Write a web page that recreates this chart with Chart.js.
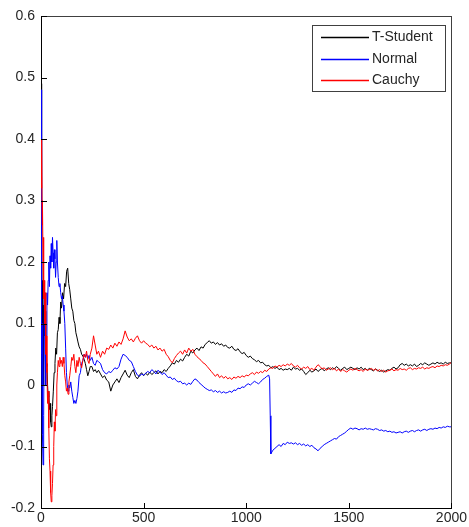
<!DOCTYPE html>
<html>
<head>
<meta charset="utf-8">
<script src="https://cdn.jsdelivr.net/npm/chart.js@4.4.1/dist/chart.umd.min.js"></script>
<style>
html,body{margin:0;padding:0;background:#fff;}
#wrap{width:469px;height:527px;position:relative;}
</style>
</head>
<body>
<div id="wrap"><canvas id="c" width="469" height="527"></canvas></div>
<script>
// ---- data ----
const seriesNames = ["T-Student", "Normal", "Cauchy"];
const seriesColors = ["#000000", "#0000ff", "#ff0000"];
const xTicks = [0, 500, 1000, 1500, 2000];
const yTicks = [-0.2, -0.1, 0, 0.1, 0.2, 0.3, 0.4, 0.5, 0.6];

// T-Student
const tStudentX = [1,2,3,4,5,6,8,10,12,14,16,18,20,23,26,29,32,35,38,41,44,47,50,53,56,60,64,68,72,76,80,84,88,92,96,100,105,110,115,120,125,130,135,140,145,150,155,160,165,170,175,180,186,192,198,204,210,216,222,228,234,240,248,256,264,272,280,290,300,310,320,330,340,350,360,370,380,390,400,410,420,430,440,450,460,470,480,490,
500,510,520,530,540,550,560,570,580,590,
600,610,620,630,640,650,660,670,680,690,
700,710,720,730,740,750,760,770,780,790,
800,810,820,830,840,850,860,870,880,890,
900,910,920,930,940,950,960,970,980,990,
1000,1010,1020,1030,1040,1050,1060,1070,1080,1090,
1100,1110,1120,1130,1140,1150,1160,1170,1180,1190,
1200,1210,1220,1230,1240,1250,1260,1270,1280,1290,
1300,1310,1320,1330,1340,1350,1360,1370,1380,1390,
1400,1410,1420,1430,1440,1450,1460,1470,1480,1490,
1500,1510,1520,1530,1540,1550,1560,1570,1580,1590,
1600,1610,1620,1630,1640,1650,1660,1670,1680,1690,
1700,1710,1720,1730,1740,1750,1760,1770,1780,1790,
1800,1810,1820,1830,1840,1850,1860,1870,1880,1890,
1900,1910,1920,1930,1940,1950,1960,1970,1980,1990,2000];
const tStudentY = [0.49,0.30,0.16,0.22,0.12,0.17,0.05,0.13,0.00,0.10,0.15,0.08,0.12,0.06,0.03,0.035,0.0,-0.02,-0.01,-0.04,-0.03,-0.06,-0.068,-0.05,-0.035,-0.01,0.02,0.035,0.06,0.05,0.085,0.09,0.11,0.10,0.135,0.125,0.15,0.14,0.165,0.16,0.185,0.19,0.165,0.155,0.14,0.125,0.12,0.105,0.10,0.085,0.078,0.07,0.062,0.058,0.05,0.047,0.042,0.035,0.025,0.015,0.022,0.03,0.03,0.022,0.025,0.02,0.024,0.018,0.012,0.015,0.008,0.005,-0.01,0.0,0.005,0.01,0.004,0.012,0.018,0.024,0.016,0.012,0.02,0.025,0.014,0.01,0.016,0.02,
0.015,0.019,0.016,0.021,0.017,0.02,0.023,0.018,0.022,0.02,
0.025,0.022,0.027,0.031,0.036,0.034,0.04,0.037,0.042,0.039,
0.045,0.05,0.047,0.055,0.052,0.057,0.06,0.056,0.062,0.06,
0.066,0.069,0.072,0.068,0.07,0.066,0.069,0.065,0.067,0.063,
0.065,0.061,0.06,0.063,0.058,0.056,0.059,0.054,0.051,0.053,
0.048,0.045,0.047,0.043,0.041,0.038,0.04,0.036,0.037,0.033,
0.031,0.032,0.028,0.03,0.027,0.029,0.025,0.027,0.024,0.026,
0.025,0.027,0.024,0.029,0.026,0.027,0.024,0.026,0.022,0.017,
0.02,0.024,0.021,0.023,0.026,0.022,0.025,0.027,0.023,0.026,
0.028,0.025,0.028,0.026,0.03,0.027,0.024,0.027,0.029,0.025,
0.027,0.029,0.027,0.025,0.028,0.026,0.029,0.025,0.027,0.024,
0.027,0.025,0.023,0.026,0.024,0.022,0.024,0.021,0.023,0.025,
0.024,0.027,0.029,0.026,0.028,0.033,0.035,0.032,0.034,0.031,
0.033,0.031,0.034,0.03,0.032,0.035,0.033,0.036,0.034,0.032,
0.034,0.036,0.034,0.037,0.035,0.036,0.034,0.037,0.035,0.036,0.036];

// Normal
const normalX = [1,2,3,4,5,6,8,10,12,14,16,18,20,23,26,29,32,35,38,41,44,47,50,53,56,59,62,65,68,71,74,77,80,84,88,92,96,100,104,108,112,116,120,124,128,132,136,140,145,150,155,160,165,170,175,180,186,192,198,204,210,216,222,228,234,240,248,256,264,272,280,290,300,310,320,330,340,350,360,370,380,390,400,410,420,430,440,450,460,470,480,490,
500,510,520,530,540,550,560,570,580,590,
600,610,620,630,640,650,660,670,680,690,
700,710,720,730,740,750,760,770,780,790,
800,810,820,830,840,850,860,870,880,890,
900,910,920,930,940,950,960,970,980,990,
1000,1010,1020,1030,1040,1050,1060,1070,1080,1090,
1100,1110,1114,1117,
1120,1130,1140,1150,1160,1170,1180,1190,
1200,1210,1220,1230,1240,1250,1260,1270,1280,1290,
1300,1310,1320,1330,1340,1350,1360,1370,1380,1390,
1400,1410,1420,1430,1440,1450,1460,1470,1480,1490,
1500,1510,1520,1530,1540,1550,1560,1570,1580,1590,
1600,1610,1620,1630,1640,1650,1660,1670,1680,1690,
1700,1710,1720,1730,1740,1750,1760,1770,1780,1790,
1800,1810,1820,1830,1840,1850,1860,1870,1880,1890,
1900,1910,1920,1930,1940,1950,1960,1970,1980,1990,2000];
const normalY = [0.48,0.40,0.17,0.05,-0.02,0.10,-0.08,-0.13,-0.12,-0.05,0.15,0.12,0.05,0.0,0.08,0.15,0.13,0.17,0.20,0.16,0.21,0.19,0.23,0.20,0.24,0.215,0.19,0.22,0.205,0.175,0.20,0.235,0.20,0.175,0.16,0.165,0.15,0.14,0.145,0.13,0.12,0.10,0.06,0.02,0.0,-0.01,0.0,-0.005,0.005,-0.01,-0.02,-0.03,-0.025,-0.03,-0.022,-0.01,0.015,0.02,0.035,0.04,0.05,0.045,0.05,0.042,0.048,0.04,0.045,0.035,0.032,0.04,0.038,0.035,0.025,0.02,0.018,0.022,0.02,0.024,0.028,0.026,0.03,0.042,0.05,0.048,0.045,0.04,0.038,0.03,0.022,0.016,0.014,0.018,
0.016,0.019,0.022,0.02,0.025,0.022,0.018,0.024,0.021,0.017,
0.02,0.016,0.012,0.013,0.009,0.011,0.007,0.005,0.006,0.002,
0.003,0.0,0.003,0.001,0.006,0.01,0.008,0.004,0.001,-0.002,
-0.005,-0.007,-0.009,-0.008,-0.011,-0.009,-0.012,-0.01,-0.013,-0.011,
-0.013,-0.012,-0.01,-0.012,-0.008,-0.009,-0.005,-0.006,-0.003,-0.004,
0.0,0.002,0.0,0.003,0.006,0.004,0.002,0.005,0.009,0.011,
0.014,0.016,0.01,-0.05,
-0.112,-0.106,-0.103,-0.1,-0.097,-0.1,-0.095,-0.097,
-0.093,-0.095,-0.094,-0.096,-0.094,-0.097,-0.095,-0.098,-0.096,-0.099,
-0.097,-0.1,-0.098,-0.102,-0.104,-0.107,-0.103,-0.1,-0.097,-0.095,
-0.093,-0.091,-0.089,-0.087,-0.088,-0.084,-0.082,-0.08,-0.078,-0.075,
-0.072,-0.07,-0.072,-0.07,-0.071,-0.073,-0.071,-0.072,-0.07,-0.072,
-0.071,-0.072,-0.073,-0.071,-0.072,-0.074,-0.073,-0.075,-0.074,-0.076,
-0.075,-0.077,-0.076,-0.078,-0.077,-0.076,-0.078,-0.076,-0.075,-0.077,
-0.075,-0.074,-0.076,-0.074,-0.073,-0.075,-0.073,-0.072,-0.074,-0.072,
-0.071,-0.072,-0.07,-0.071,-0.069,-0.07,-0.068,-0.069,-0.067,-0.068,-0.068];

// Cauchy
const cauchyX = [1,2,3,4,5,6,8,10,12,14,16,18,20,23,26,29,32,35,38,41,44,47,50,53,56,59,62,65,68,71,74,77,80,84,88,92,96,100,104,108,112,116,120,124,128,132,136,140,145,150,155,160,165,170,175,180,186,192,198,204,210,216,222,228,234,240,248,256,264,272,280,290,300,310,320,330,340,350,360,370,380,390,400,410,420,430,440,450,460,470,480,490,
500,510,520,530,540,550,560,570,580,590,
600,610,620,630,640,650,660,670,680,690,
700,710,720,730,740,750,760,770,780,790,
800,810,820,830,840,850,860,870,880,890,
900,910,920,930,940,950,960,970,980,990,
1000,1010,1020,1030,1040,1050,1060,1070,1080,1090,
1100,1110,1120,1130,1140,1150,1160,1170,1180,1190,
1200,1210,1220,1230,1240,1250,1260,1270,1280,1290,
1300,1310,1320,1330,1340,1350,1360,1370,1380,1390,
1400,1410,1420,1430,1440,1450,1460,1470,1480,1490,
1500,1510,1520,1530,1540,1550,1560,1570,1580,1590,
1600,1610,1620,1630,1640,1650,1660,1670,1680,1690,
1700,1710,1720,1730,1740,1750,1760,1770,1780,1790,
1800,1810,1820,1830,1840,1850,1860,1870,1880,1890,
1900,1910,1920,1930,1940,1950,1960,1970,1980,1990,2000];
const cauchyY = [0.40,0.35,0.32,0.40,0.30,0.26,0.30,0.20,0.24,0.14,0.17,0.10,0.15,0.05,0.08,0.02,-0.03,-0.01,-0.07,-0.12,-0.14,-0.175,-0.19,-0.18,-0.16,-0.13,-0.10,-0.06,-0.075,-0.04,-0.05,0.0,0.02,0.04,0.03,0.045,0.035,0.04,0.03,0.045,0.035,0.015,0.005,-0.01,-0.005,-0.015,0.005,0.015,0.03,0.045,0.04,0.05,0.03,0.02,0.04,0.03,0.045,0.035,0.028,0.04,0.05,0.045,0.055,0.04,0.035,0.05,0.06,0.08,0.065,0.05,0.055,0.045,0.055,0.05,0.06,0.058,0.065,0.06,0.068,0.063,0.07,0.066,0.075,0.088,0.078,0.072,0.075,0.07,0.076,0.08,0.072,0.068,
0.072,0.068,0.066,0.062,0.065,0.06,0.063,0.057,0.06,0.055,
0.058,0.05,0.046,0.04,0.036,0.043,0.048,0.052,0.055,0.05,
0.057,0.052,0.06,0.055,0.058,0.05,0.046,0.043,0.04,0.036,
0.034,0.03,0.026,0.022,0.018,0.014,0.018,0.012,0.015,0.011,
0.014,0.01,0.012,0.009,0.013,0.011,0.014,0.012,0.015,0.013,
0.016,0.015,0.018,0.02,0.017,0.021,0.019,0.022,0.02,0.024,
0.022,0.026,0.028,0.027,0.031,0.029,0.032,0.03,0.033,0.031,
0.034,0.032,0.035,0.031,0.029,0.032,0.028,0.026,0.029,0.027,
0.03,0.025,0.027,0.024,0.029,0.033,0.03,0.026,0.028,0.024,
0.026,0.028,0.025,0.027,0.023,0.026,0.022,0.025,0.023,0.021,
0.024,0.026,0.024,0.027,0.025,0.023,0.025,0.022,0.026,0.024,
0.025,0.027,0.024,0.026,0.023,0.025,0.022,0.024,0.021,0.023,
0.024,0.026,0.023,0.025,0.024,0.027,0.025,0.026,0.024,0.027,
0.028,0.025,0.027,0.026,0.028,0.027,0.029,0.026,0.028,0.027,
0.029,0.03,0.028,0.031,0.03,0.032,0.031,0.033,0.032,0.034,0.037];

// ---- build chart ----
function pts(xs, ys){ return xs.map((x,i)=>({x:x, y:ys[i]})); }
const allX = [tStudentX, normalX, cauchyX];
const allY = [tStudentY, normalY, cauchyY];

const FONT = {family: '"Liberation Sans", Arial, sans-serif', size: 14};
const TEXT_COLOR = '#262626';

const frame = {
  id: 'frame',
  afterDatasetsDraw(chart){
    const {ctx, chartArea:a, scales} = chart;
    ctx.save();
    ctx.lineWidth = 1;
    // top and right box edges
    ctx.fillStyle = '#404040';
    ctx.fillRect(Math.round(a.left), Math.round(a.top), Math.round(a.right - a.left) + 1, 1);
    ctx.fillRect(Math.round(a.right), Math.round(a.top), 1, Math.round(a.bottom - a.top));
    // inward tick marks
    ctx.fillStyle = '#000';
    xTicks.forEach(v=>{
      const px = Math.round(scales.x.getPixelForValue(v));
      ctx.fillRect(px, Math.round(a.bottom) - 5, 1, 5);
    });
    yTicks.forEach(v=>{
      const py = Math.round(scales.y.getPixelForValue(v));
      ctx.fillRect(Math.round(a.left), py, 6, 1);
    });
    // legend box
    const L = Math.round(a.right) - 139, T = Math.round(a.top) + 9, W = 133, H = 66;
    ctx.fillStyle = '#fff';
    ctx.fillRect(L, T, W, H);
    ctx.strokeStyle = '#404040';
    ctx.strokeRect(L + 0.5, T + 0.5, W, H);
    ctx.font = '14px "Liberation Sans", Arial, sans-serif';
    ctx.textBaseline = 'middle';
    ctx.textAlign = 'left';
    const rows = [12, 34, 55];
    seriesNames.forEach((name, i)=>{
      const y = T + rows[i];
      ctx.fillStyle = seriesColors[i];
      ctx.fillRect(L + 9, y - 0.25, 48, 1.5);
      ctx.fillStyle = TEXT_COLOR;
      ctx.fillText(name, L + 60, y + 0.5);
    });
    ctx.restore();
  }
};

new Chart(document.getElementById('c'), {
  type: 'line',
  data: {
    datasets: seriesNames.map((name, i)=>({
      label: name,
      data: pts(allX[i], allY[i]),
      borderColor: seriesColors[i],
      borderWidth: 1,
      pointRadius: 0,
      tension: 0,
      fill: false,
      order: seriesNames.length - i
    }))
  },
  options: {
    responsive: false,
    animation: false,
    devicePixelRatio: 1,
    layout: {padding: {top: 16, right: 17, left: 0, bottom: 0}},
    plugins: {legend: {display: false}, tooltip: {enabled: false}},
    scales: {
      x: {
        type: 'linear', min: 0, max: 2000,
        afterBuildTicks: s => { s.ticks = xTicks.map(v=>({value:v})); },
        afterFit: s => { s.height = 19; },
        grid: {display: true, drawOnChartArea: false, drawTicks: false, color: '#000'},
        border: {display: true, color: '#000', width: 1},
        ticks: {font: FONT, color: TEXT_COLOR, padding: 2, maxRotation: 0,
                callback: v => String(v)}
      },
      y: {
        type: 'linear', min: -0.2, max: 0.6,
        afterBuildTicks: s => { s.ticks = yTicks.map(v=>({value:v})); },
        afterFit: s => { s.width = 41; },
        grid: {display: true, drawOnChartArea: false, drawTicks: false, color: '#000'},
        border: {display: true, color: '#000', width: 1},
        ticks: {font: FONT, color: TEXT_COLOR, padding: 6,
                callback: v => (Math.abs(v) < 1e-9 ? '0' : (Math.round(v*10)/10).toFixed(1))}
      }
    }
  },
  plugins: [frame]
});
</script>
</body>
</html>
